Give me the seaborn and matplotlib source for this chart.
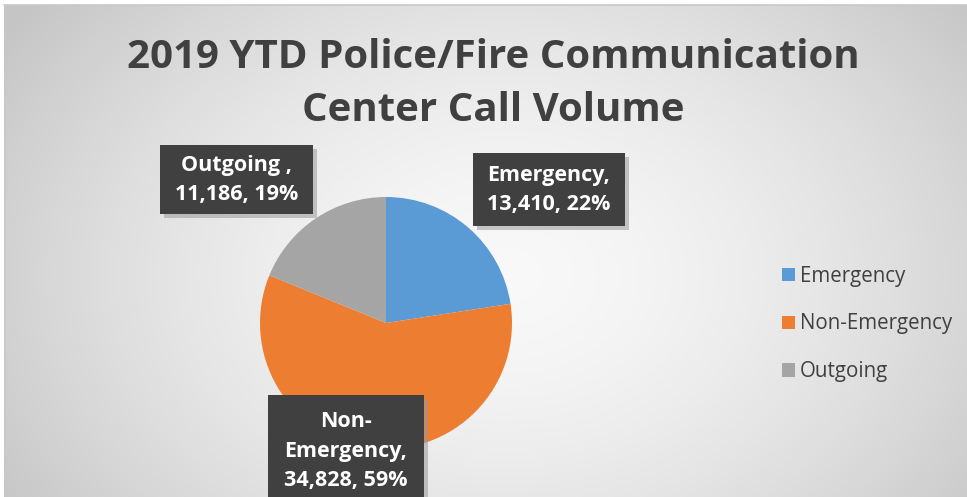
import numpy as np
import matplotlib
matplotlib.use("Agg")
import matplotlib.pyplot as plt
from matplotlib.patches import Rectangle, Patch
import seaborn as sns

# ---- data ----
categories = ["Emergency", "Non-Emergency", "Outgoing"]
label_names = ["Emergency,", "Non-\nEmergency,", "Outgoing ,"]
values = [13410, 34828, 11186]
percents = [22, 59, 19]
colors = ["#5B9BD5", "#ED7D31", "#A5A5A5"]
title = "2019 YTD Police/Fire Communication\nCenter Call Volume"

sns.set_theme(style="white")
plt.rcParams["font.family"] = ["Open Sans", "DejaVu Sans"]
plt.rcParams["hatch.color"] = "#575757"
plt.rcParams["hatch.linewidth"] = 1.0

W, H = 967, 497
fig = plt.figure(figsize=(W / 100, H / 100), dpi=100)
fig.patch.set_facecolor("white")
ax = fig.add_axes([0, 0, 1, 1])

# radial background gradient
yy, xx = np.mgrid[0:200, 0:400]
gx = (xx / 399.0 - 0.52) / 0.62
gy = (yy / 199.0 - 0.55) / 0.9
r = np.clip(np.sqrt(gx ** 2 + gy ** 2), 0, 1)
c0, c1 = 0.975, 0.775
img = c0 + (c1 - c0) * r ** 1.6
ax.imshow(np.dstack([img, img, img]), extent=(4, W, 0, H - 5), origin="upper",
          aspect="auto", zorder=0, interpolation="bilinear")
ax.plot([4, W], [H - 5, H - 5], color="#c8c8c8", lw=1.2, zorder=1)
ax.plot([4.5, 4.5], [0, H - 5], color="#c8c8c8", lw=1.2, zorder=1)

# pie
cx, cy, R = 386, H - 323, 126
wedges, _ = ax.pie(values, colors=colors, startangle=90, counterclock=False,
                   center=(cx, cy), radius=R, frame=True,
                   wedgeprops=dict(edgecolor="none", linewidth=0, zorder=2))
ax.set_xlim(0, W)
ax.set_ylim(0, H)
ax.set_aspect("equal")
ax.axis("off")

texts = [f"{n}\n{v:,}, {p}%" for n, v, p in zip(label_names, values, percents)]

# label boxes: (x0, top, x1, bottom) in image pixels, text center
boxes = [
    ((473, 153, 625, 226), (549, 190)),
    ((268, 395, 424, 500), (346, 451)),
    ((160, 145, 313, 214), (236.5, 180)),
]
for ((x0, t, x1, b), (tx, ty)), txt in zip(boxes, texts):
    ax.add_patch(Rectangle((x0 + 4, H - b - 4), x1 - x0, b - t, facecolor="#9a9a9a",
                           edgecolor="none", alpha=0.55, zorder=3))
    ax.add_patch(Rectangle((x0, H - b), x1 - x0, b - t, facecolor="#404040",
                           edgecolor="#404040", hatch="..", lw=0, zorder=4))
    ax.text(tx, H - ty, txt, ha="center", va="center", color="white",
            fontsize=15.5, fontweight="bold", linespacing=1.55, zorder=5)

# title
ax.text(493, H - 84, title, ha="center", va="center", fontsize=29,
        fontweight="bold", color="#404040", linespacing=1.48, zorder=5)

# legend
handles = [Patch(facecolor=c, edgecolor="none", label=l) for c, l in zip(colors, categories)]
leg = fig.legend(handles=handles, loc="center left", bbox_to_anchor=(782 / W, 1 - 324 / H),
                 frameon=False, fontsize=14.8, labelspacing=1.3, handlelength=0.62,
                 handleheight=0.62, handletextpad=0.25, borderpad=0, borderaxespad=0)
for t in leg.get_texts():
    t.set_color("#404040")

fig.savefig("out.png", dpi=100, facecolor="white")
